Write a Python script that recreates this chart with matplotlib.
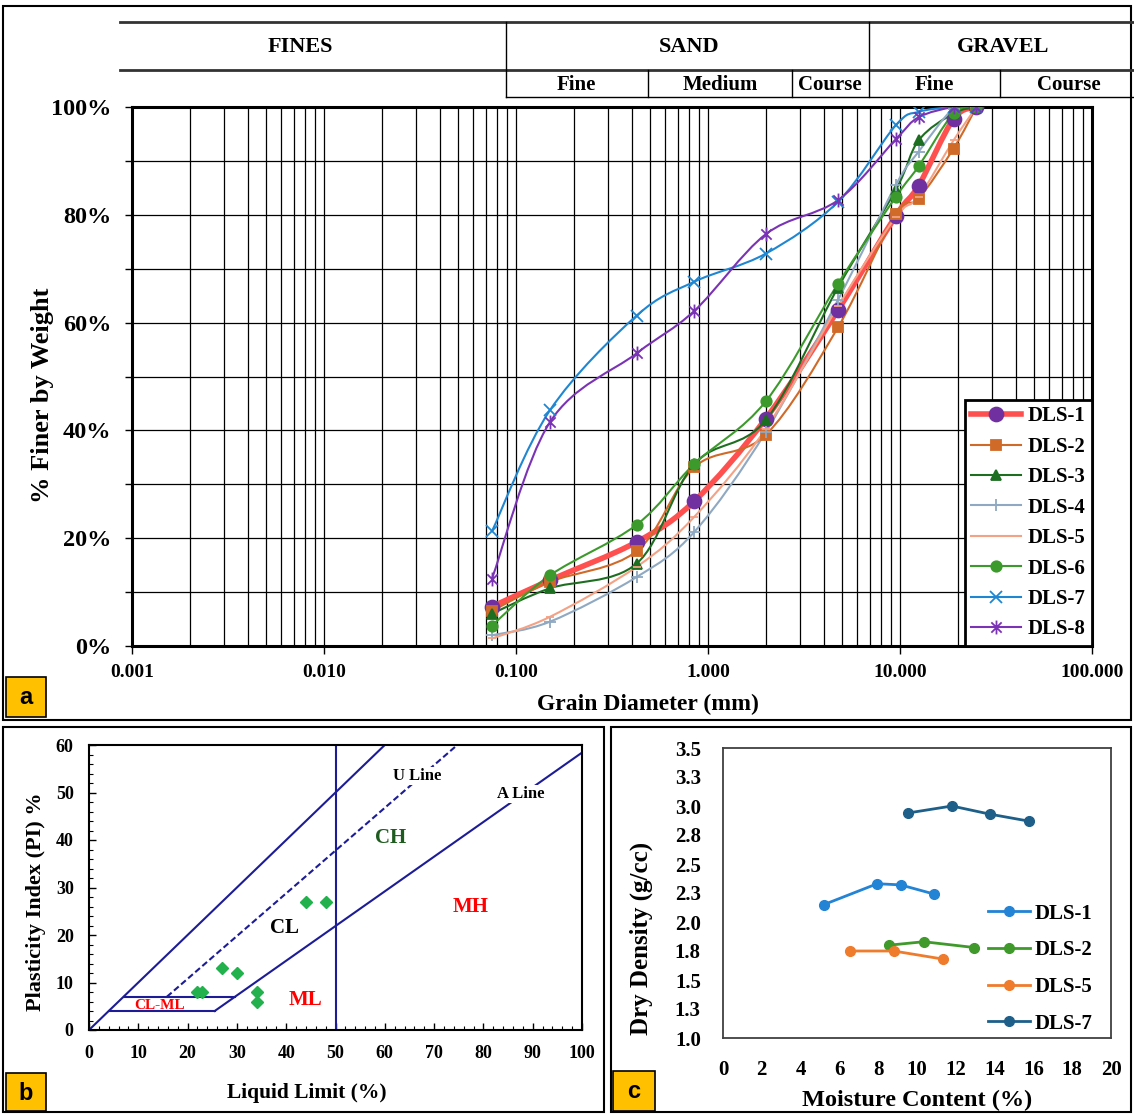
import numpy as np
import matplotlib
matplotlib.use('Agg')
import matplotlib.pyplot as plt
from matplotlib.path import Path
from matplotlib.patches import PathPatch, Rectangle
from matplotlib.lines import Line2D
from matplotlib.ticker import MultipleLocator, FuncFormatter, LogLocator, NullFormatter

plt.rcParams['font.family'] = ['Liberation Serif', 'DejaVu Serif']
plt.rcParams['font.weight'] = 'bold'

## Panel a: grain size distribution (% finer by weight)
sieve_mm = [0.075, 0.15, 0.425, 0.85, 2.0, 4.75, 9.5, 12.5, 19.0, 25.0]
dls1 = [7.3, 12.2, 19.3, 26.9, 42.2, 62.3, 79.8, 85.4, 97.8, 100]
dls2 = [6.5, 11.9, 17.6, 33.2, 39.2, 59.1, 80.1, 83.0, 92.3, 100]
dls3 = [6.0, 10.7, 15.3, 33.8, 41.9, 66.5, 84.6, 93.8, 98.8, 100]
dls4 = [2.0, 4.5, 12.8, 21.2, 39.7, 64.2, 85.5, 91.7, 99.7, 100]
dls5 = [1.4, 5.4, 14.7, 24.0, 40.3, 63.0, 79.6, 83.3, 93.8, 100]
dls6 = [3.8, 13.1, 22.5, 33.8, 45.4, 67.2, 83.3, 89.0, 98.8, 100]
dls7 = [21.3, 43.7, 61.3, 67.6, 72.8, 82.4, 96.6, 99.1, 100, 100]
dls8 = [12.5, 41.5, 54.3, 62.2, 76.4, 82.7, 94.0, 98.1, 100, 100]
gsd_names = ['DLS-1', 'DLS-2', 'DLS-3', 'DLS-4', 'DLS-5', 'DLS-6', 'DLS-7', 'DLS-8']
gsd_values = [dls1, dls2, dls3, dls4, dls5, dls6, dls7, dls8]

## Panel b: plasticity chart
ll_points = [22, 23, 27, 30, 34, 34, 44, 48]
pi_points = [8, 8, 13, 12, 8, 6, 27, 27]
upper_ll = [0, 60]
upper_pi = [0, 60]
u_line_ll = [15.8, 74.7]
u_line_pi = [7, 60]
a_line_ll = [25.5, 100]
a_line_pi = [4, 58.4]
clml_top_ll = [7, 29.6]
clml_top_pi = [7, 7]
clml_bot_ll = [4, 25.5]
clml_bot_pi = [4, 4]
ll50_ll = [50, 50]
ll50_pi = [0, 60]

## Panel c: compaction curves
mc_dls1 = [5.2, 7.95, 9.15, 10.9]
dd_dls1 = [2.15, 2.33, 2.32, 2.24]
mc_dls2 = [8.55, 10.35, 12.95]
dd_dls2 = [1.80, 1.83, 1.78]
mc_dls5 = [6.55, 8.8, 11.35]
dd_dls5 = [1.75, 1.75, 1.68]
mc_dls7 = [9.55, 11.8, 13.75, 15.75]
dd_dls7 = [2.94, 3.00, 2.93, 2.87]
dd_ticks = [1.0, 1.25, 1.5, 1.75, 2.0, 2.25, 2.5, 2.75, 3.0, 3.25, 3.5]
dd_tick_labels = ['1.0', '1.3', '1.5', '1.8', '2.0', '2.3', '2.5', '2.8', '3.0', '3.3', '3.5']

W, H = 1134, 1115
fig = plt.figure(figsize=(W / 100, H / 100), dpi=100)


def fbox(left, top, right, bottom):
    # pixel box -> figure fraction rect
    return [left / W, 1 - bottom / H, (right - left) / W, (bottom - top) / H]


def smooth_path(x, y):
    # Excel-like smoothed line: Catmull-Rom as cubic Bezier, in log-x space
    lx = np.log10(x)
    y = np.asarray(y, float)
    n = len(lx)
    verts = [(lx[0], y[0])]
    codes = [Path.MOVETO]
    for i in range(n - 1):
        i0 = max(i - 1, 0)
        i3 = min(i + 2, n - 1)
        c1 = (lx[i] + (lx[i + 1] - lx[i0]) / 6, y[i] + (y[i + 1] - y[i0]) / 6)
        c2 = (lx[i + 1] - (lx[i3] - lx[i]) / 6, y[i + 1] - (y[i3] - y[i]) / 6)
        verts += [c1, c2, (lx[i + 1], y[i + 1])]
        codes += [Path.CURVE4] * 3
    verts = np.array(verts)
    verts[:, 0] = 10 ** verts[:, 0]
    return Path(verts, codes)


## background layer in pixel units: frames, header table, panel tags
bg = fig.add_axes([0, 0, 1, 1])
bg.set_xlim(0, W)
bg.set_ylim(H, 0)
bg.axis('off')

for (x0, y0, x1, y1) in [(3, 6, 1131, 720), (3, 727, 604, 1112), (611, 727, 1131, 1112)]:
    bg.add_patch(Rectangle((x0, y0), x1 - x0, y1 - y0, fill=False, ec='black', lw=1.5))

bg.plot([120, W], [22, 22], color='#333333', lw=2)
bg.plot([120, W], [70, 70], color='#333333', lw=2)
bg.plot([506, W], [97, 97], color='black', lw=1)
for xv in [506, 869]:
    bg.plot([xv, xv], [22, 97], color='black', lw=1)
for xv in [648, 792, 1000]:
    bg.plot([xv, xv], [70, 97], color='black', lw=1)
for txt, xc in [('FINES', 300), ('SAND', 689), ('GRAVEL', 1003)]:
    bg.text(xc, 47, txt, ha='center', va='center', fontsize=16, fontweight='bold')
for txt, xc in [('Fine', 576), ('Medium', 720), ('Course', 830), ('Fine', 934), ('Course', 1069)]:
    bg.text(xc, 85, txt, ha='center', va='center', fontsize=15, fontweight='bold')

for tag, (x0, y0, x1, y1) in [('a', (6, 677, 46, 717)), ('b', (6, 1073, 46, 1111)), ('c', (613, 1071, 655, 1111))]:
    bg.add_patch(Rectangle((x0, y0), x1 - x0, y1 - y0, fc='#FFC000', ec='black', lw=1.2))
    bg.text((x0 + x1) / 2, (y0 + y1) / 2 + 1, tag, ha='center', va='center', fontsize=17,
            fontweight='bold', family='Liberation Sans')

## Panel a
ax = fig.add_axes(fbox(132, 107, 1092, 646))
ax.set_xscale('log')
ax.set_xlim(0.001, 100)
ax.set_ylim(0, 100)
ax.xaxis.set_major_locator(LogLocator(base=10, numticks=100))
ax.xaxis.set_minor_locator(LogLocator(base=10, subs=np.arange(2, 10), numticks=100))
ax.xaxis.set_major_formatter(FuncFormatter(lambda v, _: f'{v:.3f}'))
ax.xaxis.set_minor_formatter(NullFormatter())
ax.yaxis.set_major_locator(MultipleLocator(20))
ax.yaxis.set_minor_locator(MultipleLocator(10))
ax.yaxis.set_major_formatter(FuncFormatter(lambda v, _: f'{v:.0f}%'))
ax.set_axisbelow(True)
ax.grid(which='both', color='black', lw=0.9)
ax.tick_params(axis='x', which='major', length=6, width=1, labelsize=14, pad=7)
ax.tick_params(axis='x', which='minor', length=0)
ax.tick_params(axis='y', which='both', length=5, width=1, labelsize=17.5, pad=10)
for s in ax.spines.values():
    s.set_linewidth(2.2)

star = Path([(-1, -1), (1, 1), (-1, 1), (1, -1), (0, -1.35), (0, 1.35)],
            [Path.MOVETO, Path.LINETO] * 3)
styles = [
    dict(lc='#FF5050', lw=4.0, m='o', mc='#7030A0', ms=10),
    dict(lc='#D06A28', lw=1.5, m='s', mc='#D06A28', ms=7),
    dict(lc='#1E6E22', lw=1.5, m='^', mc='#1E6E22', ms=7),
    dict(lc='#8FA9C2', lw=1.5, m='+', mc='#8FA9C2', ms=9),
    dict(lc='#F4A285', lw=1.5, m='_', mc='#F4A285', ms=6),
    dict(lc='#3C9A2C', lw=1.5, m='o', mc='#3C9A2C', ms=7.5),
    dict(lc='#1F86D2', lw=1.5, m='x', mc='#1F86D2', ms=9),
    dict(lc='#7A33B5', lw=1.5, m=star, mc='#7A33B5', ms=10),
]
handles = []
for k, (name, vals, st) in enumerate(zip(gsd_names, gsd_values, styles)):
    z = 2 if k == 0 else 3
    ax.add_patch(PathPatch(smooth_path(sieve_mm, vals), fill=False, ec=st['lc'], lw=st['lw'], zorder=z))
    ax.plot(sieve_mm, vals, ls='none', marker=st['m'], ms=st['ms'], mfc=st['mc'], mec=st['mc'],
            mew=1.3, zorder=4)
    handles.append(Line2D([], [], color=st['lc'], lw=st['lw'], marker=st['m'], ms=st['ms'],
                          mfc=st['mc'], mec=st['mc'], mew=1.3))
leg = ax.legend(handles, gsd_names, loc='lower right', bbox_to_anchor=(1, 0), borderaxespad=0,
                fancybox=False, framealpha=1, edgecolor='black', handlelength=2.4,
                handletextpad=0.3, labelspacing=0.5, borderpad=0.32, prop=dict(weight='bold', size=15))
leg.get_frame().set_linewidth(2)
ax.set_ylabel('% Finer by Weight', fontsize=19, fontweight='bold')
ax.yaxis.set_label_coords(-0.081, 0.466)
ax.set_xlabel('Grain Diameter (mm)', fontsize=17, fontweight='bold')
ax.xaxis.set_label_coords(0.5375, -0.089)

## Panel b
axb = fig.add_axes(fbox(89, 745, 582, 1030))
axb.set_xlim(0, 100)
axb.set_ylim(0, 60)
navy = '#1C1C96'
axb.plot(upper_ll, upper_pi, color=navy, lw=1.5)
axb.plot(u_line_ll, u_line_pi, color=navy, lw=1.5, ls=(0, (3, 1.5)))
axb.plot(a_line_ll, a_line_pi, color=navy, lw=1.5)
axb.plot(clml_top_ll, clml_top_pi, color=navy, lw=1.5)
axb.plot(clml_bot_ll, clml_bot_pi, color=navy, lw=1.5)
axb.plot(ll50_ll, ll50_pi, color=navy, lw=1.5)
axb.plot(ll_points, pi_points, ls='none', marker='D', ms=6, color='#22B14C', zorder=4)
axb.text(66.5, 53.5, 'U Line', fontsize=12, fontweight='bold', ha='center', va='center',
         bbox=dict(fc='white', ec='none', pad=1))
axb.text(87.5, 49.7, 'A Line', fontsize=12, fontweight='bold', ha='center', va='center',
         bbox=dict(fc='white', ec='none', pad=1))
axb.text(39.6, 21.5, 'CL', fontsize=15, fontweight='bold', ha='center', va='center', color='black')
axb.text(61.2, 40.5, 'CH', fontsize=15, fontweight='bold', ha='center', va='center', color='#1E5B1E')
axb.text(77.4, 26, 'MH', fontsize=15, fontweight='bold', ha='center', va='center', color='red')
axb.text(44, 6.3, 'ML', fontsize=15, fontweight='bold', ha='center', va='center', color='red')
axb.text(14.3, 5.2, 'CL-ML', fontsize=11, fontweight='bold', ha='center', va='center', color='red')
axb.xaxis.set_major_locator(MultipleLocator(10))
axb.xaxis.set_minor_locator(MultipleLocator(2))
axb.yaxis.set_major_locator(MultipleLocator(10))
axb.yaxis.set_minor_locator(MultipleLocator(2))
axb.tick_params(which='major', direction='in', length=5, width=1, labelsize=13, pad=11)
axb.tick_params(which='minor', direction='in', length=3, width=0.8)
for s in axb.spines.values():
    s.set_linewidth(1.5)
axb.set_ylabel('Plasticity Index (PI) %', fontsize=16, fontweight='bold')
axb.yaxis.set_label_coords(-0.087, 0.45)
axb.set_xlabel('Liquid Limit (%)', fontsize=15.5, fontweight='bold')
axb.xaxis.set_label_coords(0.442, -0.186)

## Panel c
axc = fig.add_axes(fbox(723, 748, 1111, 1038))
axc.set_xlim(0, 20)
axc.set_ylim(1.0, 3.5)
for name, mc, dd, col in [('DLS-1', mc_dls1, dd_dls1, '#2383D4'), ('DLS-2', mc_dls2, dd_dls2, '#3F9A2B'),
                          ('DLS-5', mc_dls5, dd_dls5, '#EF7B2D'), ('DLS-7', mc_dls7, dd_dls7, '#1E5F8A')]:
    axc.plot(mc, dd, color=col, lw=2, marker='o', ms=7, label=name)
axc.set_xticks(range(0, 21, 2))
axc.set_yticks(dd_ticks)
axc.set_yticklabels(dd_tick_labels)
axc.tick_params(length=0, labelsize=15, pad=16)
for s in axc.spines.values():
    s.set_linewidth(1.3)
    s.set_color('#404040')
axc.legend(loc='upper left', bbox_to_anchor=(0.683, 0.463), frameon=False, borderpad=0,
           borderaxespad=0, handlelength=2.0, handletextpad=0.25, labelspacing=0.8,
           prop=dict(weight='bold', size=15))
axc.set_ylabel('Dry Density (g/cc)', fontsize=18, fontweight='bold')
axc.yaxis.set_label_coords(-0.180, 0.345)
axc.set_xlabel('Moisture Content (%)', fontsize=17.5, fontweight='bold')
axc.xaxis.set_label_coords(0.5, -0.179)

fig.savefig('out.png', dpi=100)
